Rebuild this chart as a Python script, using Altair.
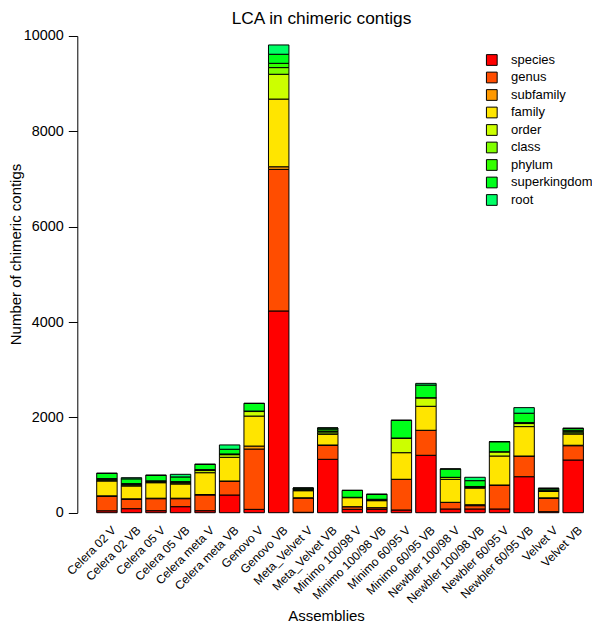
import altair as alt
import pandas as pd

title_text = ["LCA in chimeric contigs"]
assemblies = [
    "Celera 02 V", "Celera 02 VB", "Celera 05 V", "Celera 05 VB",
    "Celera meta V", "Celera meta VB", "Genovo V", "Genovo VB",
    "Meta_Velvet V", "Meta_Velvet VB", "Minimo 100/98 V", "Minimo 100/98 VB",
    "Minimo 60/95 V", "Minimo 60/95 VB", "Newbler 100/98 V", "Newbler 100/98 VB",
    "Newbler 60/95 V", "Newbler 60/95 VB", "Velvet V", "Velvet VB",
]
categories = ["species", "genus", "subfamily", "family", "order",
              "class", "phylum", "superkingdom", "root"]
colors = ["#FF0000", "#FF4D00", "#FF9900", "#FFE500", "#CCFF00",
          "#80FF00", "#33FF00", "#00FF1A", "#00FF66"]

species      = [40, 84, 42, 126, 42, 371, 70, 4232, 8, 1120, 71, 71, 57, 1204, 78, 78, 78, 755, 21, 1105]
genus        = [304, 197, 252, 168, 329, 294, 1265, 2970, 300, 294, 55, 34, 644, 525, 140, 69, 503, 434, 281, 300]
subfamily    = [10, 10, 10, 10, 10, 0, 63, 55, 5, 6, 0, 0, 0, 0, 0, 20, 0, 0, 10, 10]
family       = [311, 269, 325, 298, 458, 497, 629, 1420, 148, 225, 189, 147, 558, 503, 482, 348, 608, 617, 138, 235]
order        = [15, 20, 15, 20, 45, 55, 95, 520, 10, 30, 8, 15, 308, 180, 42, 15, 90, 64, 5, 25]
class_       = [20, 15, 15, 15, 10, 10, 10, 140, 10, 30, 0, 0, 0, 0, 0, 10, 0, 20, 5, 25]
phylum       = [15, 15, 10, 15, 10, 5, 0, 90, 17, 35, 0, 14, 0, 0, 0, 10, 0, 0, 20, 30]
superkingdom = [111, 100, 116, 98, 111, 99, 161, 190, 20, 37, 145, 105, 371, 266, 175, 122, 210, 197, 32, 40]
root         = [0, 24, 0, 55, 0, 90, 0, 195, 0, 0, 0, 0, 0, 35, 0, 71, 0, 117, 0, 0]

series = [species, genus, subfamily, family, order, class_, phylum, superkingdom, root]

rows = []
for i, a in enumerate(assemblies):
    for j, c in enumerate(categories):
        rows.append({"assembly": a, "level": c, "rank": j, "count": series[j][i]})
df = pd.DataFrame(rows)

FONT = "Liberation Sans"

bars = alt.Chart(df).mark_bar(stroke="black", strokeWidth=1).encode(
    x=alt.X(
        "assembly:N", sort=assemblies,
        scale=alt.Scale(paddingInner=0.1667, paddingOuter=0.5703, align=0.693),
        axis=alt.Axis(
            title="Assemblies", labelAngle=315, labelAlign="right", labelBaseline="middle",
            ticks=False, domain=False, labelPadding=15, labelFontSize=12, labelFont=FONT,
            labelOffset=7,
            labelColor="black", titleFont=FONT, titleFontSize=15, titleFontWeight="normal",
            titleColor="black", titleX=248.7, titleY=108, titleBaseline="alphabetic",
            titleAlign="center", labelOverlap=False,
        ),
    ),
    y=alt.Y(
        "count:Q", stack="zero",
        scale=alt.Scale(domain=[0, 10000], nice=False),
        axis=alt.Axis(
            title="Number of chimeric contigs", values=[0, 2000, 4000, 6000, 8000, 10000],
            format="d", grid=False, domainColor="black", tickColor="black", tickSize=9,
            labelPadding=5, labelFontSize=14.4, labelFont=FONT, labelColor="black",
            labelAngle=0, labelBaseline="middle",
            titleFont=FONT, titleFontSize=15, titleFontWeight="normal", titleColor="black",
            titleAngle=270, titleX=-56.5, titleY=218, titleBaseline="alphabetic",
            titleAlign="center",
        ),
    ),
    color=alt.Color(
        "level:N", sort=categories,
        scale=alt.Scale(domain=categories, range=colors),
        legend=alt.Legend(
            title=None, orient="none", legendX=408, legendY=17.5, symbolType="square",
            symbolSize=115, symbolStrokeColor="black", symbolStrokeWidth=1,
            symbolOpacity=1, labelFontSize=13, labelFont=FONT, labelColor="black",
            labelOffset=12.7, rowPadding=2.5, padding=0,
        ),
    ),
    order=alt.Order("rank:Q", sort="ascending"),
)

title = alt.Chart(pd.DataFrame({"t": title_text})).mark_text(
    font=FONT, fontSize=17.3, color="black", align="center", baseline="alphabetic",
).encode(text="t:N", x=alt.value(244.2), y=alt.value(-12))

chart = alt.layer(bars, title).properties(
    width=514.7,
    height=476.7,
    padding={"left": 69.3, "top": 28, "right": 0, "bottom": 113},
    autosize=alt.AutoSizeParams(type="none"),
).configure_view(stroke=None)

chart.save("out.html", embed_options={"renderer": "svg", "actions": False})
